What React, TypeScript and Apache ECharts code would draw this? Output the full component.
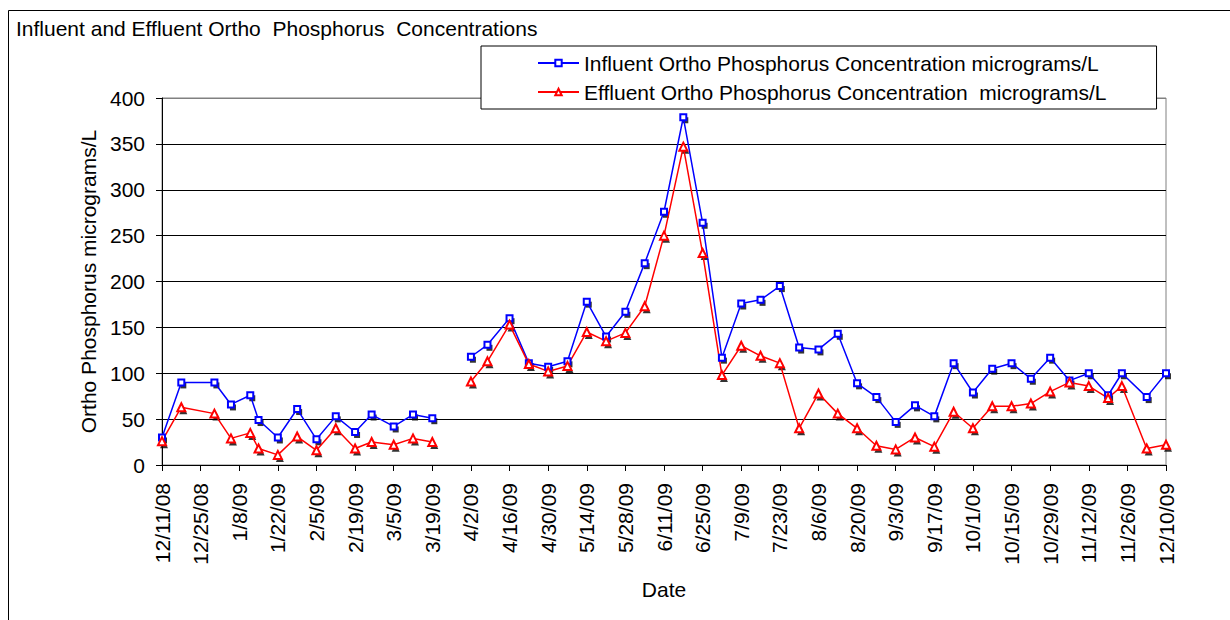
import React, { useEffect, useRef } from "react";
import * as echarts from "echarts";

const sampleDates = [
  "2008-12-11", "2008-12-18", "2008-12-30", "2009-01-05", "2009-01-12", "2009-01-15",
  "2009-01-22", "2009-01-29", "2009-02-05", "2009-02-12", "2009-02-19", "2009-02-25",
  "2009-03-05", "2009-03-12", "2009-03-19", "2009-03-26", "2009-04-02", "2009-04-08",
  "2009-04-16", "2009-04-23", "2009-04-30", "2009-05-07", "2009-05-14", "2009-05-21",
  "2009-05-28", "2009-06-04", "2009-06-11", "2009-06-18", "2009-06-25", "2009-07-02",
  "2009-07-09", "2009-07-16", "2009-07-23", "2009-07-30", "2009-08-06", "2009-08-13",
  "2009-08-20", "2009-08-27", "2009-09-03", "2009-09-10", "2009-09-17", "2009-09-24",
  "2009-10-01", "2009-10-08", "2009-10-15", "2009-10-22", "2009-10-29", "2009-11-05",
  "2009-11-12", "2009-11-19", "2009-11-24", "2009-12-03", "2009-12-10",
];

const influent: (number | null)[] = [
  30, 90, 90, 66, 76, 49, 30, 61, 28, 53, 36, 55, 42, 55, 51, null, 118, 131,
  160, 111, 107, 113, 178, 140, 167, 220, 276, 379, 264, 117, 176, 180, 195, 128,
  126, 143, 89, 74, 47, 65, 53, 111, 79, 105, 111, 94, 117, 92, 100, 76, 100, 74, 100,
];

const effluent: (number | null)[] = [
  26, 63, 56, 29, 35, 18, 11, 31, 16, 40, 18, 25, 22, 29, 25, null, 91, 113,
  153, 110, 102, 108, 145, 135, 144, 173, 250, 347, 231, 98, 130, 119, 111, 40,
  78, 56, 40, 21, 17, 30, 20, 58, 40, 64, 64, 67, 80, 90, 86, 73, 86, 18, 22,
];

const axisStartDate = "2008-12-11";
const axisEndDate = "2009-12-10";
const tickIntervalDays = 14;
const yTicks = [0, 50, 100, 150, 200, 250, 300, 350, 400];

const INF_NAME = "Influent Ortho Phosphorus Concentration micrograms/L";
const EFF_NAME = "Effluent Ortho Phosphorus Concentration  micrograms/L";
const TITLE = "Influent and Effluent Ortho  Phosphorus  Concentrations";

const DAY = 86400000;
const toUTC = (s: string) => {
  const [y, m, d] = s.split("-").map(Number);
  return Date.UTC(y, m - 1, d);
};
const BASE = toUTC(axisStartDate);
const dayOf = (s: string) => Math.round((toUTC(s) - BASE) / DAY);
const fmtDay = (v: number) => {
  const dt = new Date(BASE + v * DAY);
  return `${dt.getUTCMonth() + 1}/${dt.getUTCDate()}/${String(dt.getUTCFullYear()).slice(2)}`;
};

const FONT = "'Liberation Sans', Arial, sans-serif";

export default function App() {
  const ref = useRef<HTMLDivElement>(null);
  useEffect(() => {
    if (!ref.current) return;
    const chart = echarts.init(ref.current, undefined, { renderer: "svg" });
    const lineData = (vals: (number | null)[]) =>
      sampleDates.map((d, i) => [dayOf(d), vals[i] == null ? "-" : vals[i]]);
    const shadowData = (vals: (number | null)[]) =>
      sampleDates
        .map((d, i) => [dayOf(d), vals[i]])
        .filter((p) => p[1] != null);

    chart.setOption({
      animation: false,
      backgroundColor: "#fff",
      textStyle: { fontFamily: FONT, color: "#000" },
      graphic: [
        {
          type: "rect",
          shape: { x: 8.5, y: 10.5, width: 1400, height: 800 },
          style: { fill: "none", stroke: "#000", lineWidth: 1 },
          silent: true,
          z: 0,
        },
        {
          type: "text",
          x: 16,
          y: 28.5,
          style: {
            text: TITLE,
            font: `21px ${FONT}`,
            fill: "#000",
            verticalAlign: "middle",
            align: "left",
          },
        },
      ],
      legend: {
        data: [INF_NAME, EFF_NAME],
        orient: "vertical",
        left: 481,
        top: 46,
        padding: [5, 50, 5, 56],
        itemGap: 5,
        itemWidth: 41,
        itemHeight: 8,
        backgroundColor: "#fff",
        borderColor: "#000",
        borderWidth: 1,
        textStyle: { fontSize: 21, lineHeight: 24, fontFamily: FONT, color: "#000" },
      },
      grid: {
        left: 162,
        top: 98,
        width: 1004,
        height: 367,
        show: true,
        borderColor: "#808080",
        borderWidth: 1,
        backgroundColor: "transparent",
      },
      xAxis: {
        type: "value",
        min: dayOf(axisStartDate),
        max: dayOf(axisEndDate),
        interval: tickIntervalDays,
        name: "Date",
        nameLocation: "middle",
        nameGap: 114,
        nameTextStyle: { fontSize: 21, color: "#000", fontFamily: FONT },
        axisLine: { lineStyle: { color: "#000", width: 1 } },
        axisTick: { show: true, length: 6, lineStyle: { color: "#000" } },
        splitLine: { show: false },
        axisLabel: {
          rotate: 90,
          fontSize: 21,
          margin: 18,
          color: "#000",
          fontFamily: FONT,
          formatter: (v: number) => fmtDay(v),
        },
      },
      yAxis: {
        type: "value",
        min: yTicks[0],
        max: yTicks[yTicks.length - 1],
        interval: yTicks[1] - yTicks[0],
        name: "Ortho Phosphorus micrograms/L",
        nameLocation: "middle",
        nameGap: 58,
        nameTextStyle: { fontSize: 21, color: "#000", fontFamily: FONT },
        axisLine: { show: true, lineStyle: { color: "#000", width: 1 } },
        axisTick: { show: true, length: 6, lineStyle: { color: "#000" } },
        splitLine: {
          show: true,
          lineStyle: {
            color: ["#000", "#000", "#000", "#000", "#000", "#000", "#000", "#000", "#808080"],
            width: 1,
          },
        },
        axisLabel: { fontSize: 21, margin: 17, color: "#000", fontFamily: FONT },
      },
      series: [
        {
          type: "scatter",
          data: shadowData(influent),
          symbol: "rect",
          symbolSize: 6,
          symbolOffset: [2, 3],
          itemStyle: { color: "#000" },
          silent: true,
          z: 1,
        },
        {
          type: "scatter",
          data: shadowData(effluent),
          symbol: "triangle",
          symbolSize: 8,
          symbolOffset: [2, 3],
          itemStyle: { color: "#000" },
          silent: true,
          z: 1,
        },
        {
          name: INF_NAME,
          type: "line",
          data: lineData(influent),
          connectNulls: false,
          symbol: "emptyRect",
          symbolSize: 6,
          showAllSymbol: true,
          lineStyle: { color: "#0000FF", width: 1.5 },
          itemStyle: { color: "#0000FF", borderWidth: 1.5 },
          z: 3,
        },
        {
          name: EFF_NAME,
          type: "line",
          data: lineData(effluent),
          connectNulls: false,
          symbol: "emptyTriangle",
          symbolSize: 8,
          showAllSymbol: true,
          lineStyle: { color: "#FF0000", width: 1.5 },
          itemStyle: { color: "#FF0000", borderWidth: 1.5 },
          z: 3,
        },
      ],
    });
    return () => chart.dispose();
  }, []);
  return (
    <div
      ref={ref}
      style={{ position: "absolute", left: 0, top: 0, width: 1230, height: 620 }}
    />
  );
}
